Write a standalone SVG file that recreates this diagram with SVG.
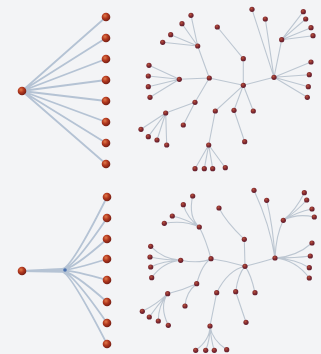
<svg xmlns="http://www.w3.org/2000/svg" width="321" height="354" viewBox="0 0 321 354">
<defs>
<radialGradient id="ball" cx="0.38" cy="0.35" r="0.7">
<stop offset="0" stop-color="#e07a4a"/>
<stop offset="0.45" stop-color="#b3391f"/>
<stop offset="1" stop-color="#6e1c14"/>
</radialGradient>
<radialGradient id="tball" cx="0.4" cy="0.35" r="0.7">
<stop offset="0" stop-color="#b8543c"/>
<stop offset="0.5" stop-color="#832a30"/>
<stop offset="1" stop-color="#5a1c2c"/>
</radialGradient>
<style>
.fe{stroke:#a9bace;stroke-width:1.8;fill:none;stroke-linecap:round;opacity:0.85}
.te{stroke:#bcc6d1;stroke-width:1.1;fill:none;stroke-linecap:round}
.fn{fill:url(#ball)}
.tn{fill:url(#tball)}
</style>
</defs>
<rect width="321" height="354" fill="#f3f4f6"/>
<g id="connectors">
<!-- top fan -->
<path class="fe" d="M22,91 L106,17 M22,91 L106,38 M22,91 L106,59 M22,91 L106,80 M22,91 L106,101 M22,91 L106,122 M22,91 L106,143 M22,91 L106,164"/>
<!-- bottom fan bundled -->
<path class="fe" d="M22,271 L62,269 Q71,269 107,197 M22,271 L62,269.4 Q72,270 107,218 M22,271 L62,269.8 Q72,270 107,239 M22,271 L62,270.2 Q72,270 107,259 M22,271 L62,270.6 Q72,270 107,280 M22,271 L62,271 Q72,271 107,302 M22,271 L62,271.4 Q71,271 107,323 M22,271 L62,271.8 Q70,272 107,344"/>
<!-- top tree -->
<path class="te" d="M209.3,78 L243.3,85.3 L274,77.3 M209.3,78 L179.3,79.3 M209.3,78 L197.7,46 M209.3,78 L195,102.3
M179.3,79.3 L149,65.3 M179.3,79.3 L148.3,76 M179.3,79.3 L148.3,86.7 M179.3,79.3 L150,97.3
M197.7,46 L191,15.3 M197.7,46 L182,23.7 M197.7,46 L170.7,34.7 M197.7,46 L162.7,42.3
M195,102.3 L165.7,113 M195,102.3 L183.3,125
M165.7,113 L141,129.3 M165.7,113 L148.3,136.7 M165.7,113 L157,140 M165.7,113 L166.7,145
M243.3,85.3 L243.3,58.7 L217.3,27
M243.3,85.3 L215.3,111 L208.7,145
M208.7,145 L195,168.7 M208.7,145 L204.3,168.7 M208.7,145 L212.7,168.7 M208.7,145 L225.3,167.7
M243.3,85.3 L234,110.3 L244.7,141.7 M243.3,85.3 L253.3,111
M274,77.3 L281.7,39.7 M281.7,39.7 L303.3,11.7 M281.7,39.7 L305.7,19 M281.7,39.7 L311,27.7 M281.7,39.7 L313,35.7
M274,77.3 L252,9.3 M274,77.3 L265.3,19
M274,77.3 L311,62 M274,77.3 L309.3,74.7 M274,77.3 L308.3,86.7 M274,77.3 L307.3,97.3"/>
<!-- bottom tree (bundled) -->
<path class="te" d="M211,258.7 Q228,261 245,266.3 Q262,262 275,258
M211,258.7 Q200,264 180.7,260.3 M211,258.7 Q202,264 196.7,283.7 M211,258.7 Q206,240 199.3,227
M150.7,246.3 Q163,259 180.7,260.3 M150,257 Q163,260 180.7,260.3 M150.7,267 Q163,261 180.7,260.3 M151.7,277.7 Q163,262 180.7,260.3
M192.7,196 Q188,217 199.3,227 M183.3,204.7 Q187,218 199.3,227 M172.3,216 Q186,219 199.3,227 M164.3,223.3 Q185,220 199.3,227
M196.7,283.7 Q183,290 167.7,293.7 M196.7,283.7 Q186,292 185,306
M142.3,311.3 Q156,305 167.7,293.7 M149.3,317 Q157,306 167.7,293.7 M158.3,321 Q158,306 167.7,293.7 M168.3,325.3 Q159,306 167.7,293.7
M245,266.3 L244.3,239.3 Q226,222 219,208
M245,266.3 Q228,270 216.7,292.7 M216.7,292.7 L210,326
M195.7,350.3 Q210,340 210,326 M205.7,350.3 Q210,340 210,326 M214.3,350.3 Q211,340 210,326 M226.7,349.7 Q212,340 210,326
M245,266.3 Q238,274 235.7,291.7 M235.7,291.7 L246,322.3 M245,266.3 Q251,274 255,292.7
M275,258 Q276,235 283.3,220.3
M304.3,192.7 Q296,210 283.3,220.3 M306.7,200 Q297,211 283.3,220.3 M312,209 Q297,212 283.3,220.3 M314.3,217 Q297,213 283.3,220.3
M254,190.3 Q270,225 275,258 M266.7,200.3 Q273,226 275,258
M312,243 Q296,257 275,258 M310.3,256 Q296,258 275,258 M309.3,267.7 Q296,259 275,258 M309.3,278 Q296,260 275,258"/>
</g>
<!-- top fan nodes -->
<g id="fan1-root"><circle class="fn" cx="22" cy="91" r="4.3"/></g>
<g id="fan1-l1"><circle class="fn" cx="106" cy="17" r="4.3"/></g>
<g id="fan1-l2"><circle class="fn" cx="106" cy="38" r="4.3"/></g>
<g id="fan1-l3"><circle class="fn" cx="106" cy="59" r="4.3"/></g>
<g id="fan1-l4"><circle class="fn" cx="106" cy="80" r="4.3"/></g>
<g id="fan1-l5"><circle class="fn" cx="106" cy="101" r="4.3"/></g>
<g id="fan1-l6"><circle class="fn" cx="106" cy="122" r="4.3"/></g>
<g id="fan1-l7"><circle class="fn" cx="106" cy="143" r="4.3"/></g>
<g id="fan1-l8"><circle class="fn" cx="106" cy="164" r="4.3"/></g>
<!-- bottom fan nodes -->
<g id="fan2-root"><circle class="fn" cx="22" cy="271" r="4.3"/></g>
<g id="fan2-junction"><circle cx="65" cy="270" r="1.8" fill="#4b72b0"/></g>
<g id="fan2-l1"><circle class="fn" cx="107" cy="197" r="4.3"/></g>
<g id="fan2-l2"><circle class="fn" cx="107" cy="218" r="4.3"/></g>
<g id="fan2-l3"><circle class="fn" cx="107" cy="239" r="4.3"/></g>
<g id="fan2-l4"><circle class="fn" cx="107" cy="259" r="4.3"/></g>
<g id="fan2-l5"><circle class="fn" cx="107" cy="280" r="4.3"/></g>
<g id="fan2-l6"><circle class="fn" cx="107" cy="302" r="4.3"/></g>
<g id="fan2-l7"><circle class="fn" cx="107" cy="323" r="4.3"/></g>
<g id="fan2-l8"><circle class="fn" cx="107" cy="344" r="4.3"/></g>
<!-- top tree nodes -->
<g id="t1-nodes">
<g id="t1-A"><circle class="tn" cx="209.3" cy="78" r="2.6"/></g>
<g id="t1-B"><circle class="tn" cx="243.3" cy="85.3" r="2.6"/></g>
<g id="t1-C"><circle class="tn" cx="274" cy="77.3" r="2.6"/></g>
<g id="t1-D"><circle class="tn" cx="179.3" cy="79.3" r="2.6"/></g>
<g id="t1-D1"><circle class="tn" cx="149" cy="65.3" r="2.6"/></g>
<g id="t1-D2"><circle class="tn" cx="148.3" cy="76" r="2.6"/></g>
<g id="t1-D3"><circle class="tn" cx="148.3" cy="86.7" r="2.6"/></g>
<g id="t1-D4"><circle class="tn" cx="150" cy="97.3" r="2.6"/></g>
<g id="t1-E"><circle class="tn" cx="197.7" cy="46" r="2.6"/></g>
<g id="t1-E1"><circle class="tn" cx="191" cy="15.3" r="2.6"/></g>
<g id="t1-E2"><circle class="tn" cx="182" cy="23.7" r="2.6"/></g>
<g id="t1-E3"><circle class="tn" cx="170.7" cy="34.7" r="2.6"/></g>
<g id="t1-E4"><circle class="tn" cx="162.7" cy="42.3" r="2.6"/></g>
<g id="t1-F"><circle class="tn" cx="195" cy="102.3" r="2.6"/></g>
<g id="t1-G"><circle class="tn" cx="165.7" cy="113" r="2.6"/></g>
<g id="t1-H"><circle class="tn" cx="183.3" cy="125" r="2.6"/></g>
<g id="t1-G1"><circle class="tn" cx="141" cy="129.3" r="2.6"/></g>
<g id="t1-G2"><circle class="tn" cx="148.3" cy="136.7" r="2.6"/></g>
<g id="t1-G3"><circle class="tn" cx="157" cy="140" r="2.6"/></g>
<g id="t1-G4"><circle class="tn" cx="166.7" cy="145" r="2.6"/></g>
<g id="t1-I"><circle class="tn" cx="243.3" cy="58.7" r="2.6"/></g>
<g id="t1-J"><circle class="tn" cx="217.3" cy="27" r="2.6"/></g>
<g id="t1-K"><circle class="tn" cx="215.3" cy="111" r="2.6"/></g>
<g id="t1-L"><circle class="tn" cx="208.7" cy="145" r="2.6"/></g>
<g id="t1-L1"><circle class="tn" cx="195" cy="168.7" r="2.6"/></g>
<g id="t1-L2"><circle class="tn" cx="204.3" cy="168.7" r="2.6"/></g>
<g id="t1-L3"><circle class="tn" cx="212.7" cy="168.7" r="2.6"/></g>
<g id="t1-L4"><circle class="tn" cx="225.3" cy="167.7" r="2.6"/></g>
<g id="t1-M"><circle class="tn" cx="234" cy="110.3" r="2.6"/></g>
<g id="t1-N"><circle class="tn" cx="244.7" cy="141.7" r="2.6"/></g>
<g id="t1-O"><circle class="tn" cx="253.3" cy="111" r="2.6"/></g>
<g id="t1-P"><circle class="tn" cx="281.7" cy="39.7" r="2.6"/></g>
<g id="t1-P1"><circle class="tn" cx="303.3" cy="11.7" r="2.6"/></g>
<g id="t1-P2"><circle class="tn" cx="305.7" cy="19" r="2.6"/></g>
<g id="t1-P3"><circle class="tn" cx="311" cy="27.7" r="2.6"/></g>
<g id="t1-P4"><circle class="tn" cx="313" cy="35.7" r="2.6"/></g>
<g id="t1-Q"><circle class="tn" cx="252" cy="9.3" r="2.6"/></g>
<g id="t1-R"><circle class="tn" cx="265.3" cy="19" r="2.6"/></g>
<g id="t1-C1"><circle class="tn" cx="311" cy="62" r="2.6"/></g>
<g id="t1-C2"><circle class="tn" cx="309.3" cy="74.7" r="2.6"/></g>
<g id="t1-C3"><circle class="tn" cx="308.3" cy="86.7" r="2.6"/></g>
<g id="t1-C4"><circle class="tn" cx="307.3" cy="97.3" r="2.6"/></g>
</g>
<!-- bottom tree nodes -->
<g id="t2-nodes">
<g id="t2-A"><circle class="tn" cx="211" cy="258.7" r="2.6"/></g>
<g id="t2-B"><circle class="tn" cx="245" cy="266.3" r="2.6"/></g>
<g id="t2-C"><circle class="tn" cx="275" cy="258" r="2.6"/></g>
<g id="t2-D"><circle class="tn" cx="180.7" cy="260.3" r="2.6"/></g>
<g id="t2-D1"><circle class="tn" cx="150.7" cy="246.3" r="2.6"/></g>
<g id="t2-D2"><circle class="tn" cx="150" cy="257" r="2.6"/></g>
<g id="t2-D3"><circle class="tn" cx="150.7" cy="267" r="2.6"/></g>
<g id="t2-D4"><circle class="tn" cx="151.7" cy="277.7" r="2.6"/></g>
<g id="t2-E"><circle class="tn" cx="199.3" cy="227" r="2.6"/></g>
<g id="t2-E1"><circle class="tn" cx="192.7" cy="196" r="2.6"/></g>
<g id="t2-E2"><circle class="tn" cx="183.3" cy="204.7" r="2.6"/></g>
<g id="t2-E3"><circle class="tn" cx="172.3" cy="216" r="2.6"/></g>
<g id="t2-E4"><circle class="tn" cx="164.3" cy="223.3" r="2.6"/></g>
<g id="t2-F"><circle class="tn" cx="196.7" cy="283.7" r="2.6"/></g>
<g id="t2-G"><circle class="tn" cx="167.7" cy="293.7" r="2.6"/></g>
<g id="t2-H"><circle class="tn" cx="185" cy="306" r="2.6"/></g>
<g id="t2-G1"><circle class="tn" cx="142.3" cy="311.3" r="2.6"/></g>
<g id="t2-G2"><circle class="tn" cx="149.3" cy="317" r="2.6"/></g>
<g id="t2-G3"><circle class="tn" cx="158.3" cy="321" r="2.6"/></g>
<g id="t2-G4"><circle class="tn" cx="168.3" cy="325.3" r="2.6"/></g>
<g id="t2-I"><circle class="tn" cx="244.3" cy="239.3" r="2.6"/></g>
<g id="t2-J"><circle class="tn" cx="219" cy="208" r="2.6"/></g>
<g id="t2-K"><circle class="tn" cx="216.7" cy="292.7" r="2.6"/></g>
<g id="t2-L"><circle class="tn" cx="210" cy="326" r="2.6"/></g>
<g id="t2-L1"><circle class="tn" cx="195.7" cy="350.3" r="2.6"/></g>
<g id="t2-L2"><circle class="tn" cx="205.7" cy="350.3" r="2.6"/></g>
<g id="t2-L3"><circle class="tn" cx="214.3" cy="350.3" r="2.6"/></g>
<g id="t2-L4"><circle class="tn" cx="226.7" cy="349.7" r="2.6"/></g>
<g id="t2-M"><circle class="tn" cx="235.7" cy="291.7" r="2.6"/></g>
<g id="t2-N"><circle class="tn" cx="246" cy="322.3" r="2.6"/></g>
<g id="t2-O"><circle class="tn" cx="255" cy="292.7" r="2.6"/></g>
<g id="t2-P"><circle class="tn" cx="283.3" cy="220.3" r="2.6"/></g>
<g id="t2-P1"><circle class="tn" cx="304.3" cy="192.7" r="2.6"/></g>
<g id="t2-P2"><circle class="tn" cx="306.7" cy="200" r="2.6"/></g>
<g id="t2-P3"><circle class="tn" cx="312" cy="209" r="2.6"/></g>
<g id="t2-P4"><circle class="tn" cx="314.3" cy="217" r="2.6"/></g>
<g id="t2-Q"><circle class="tn" cx="254" cy="190.3" r="2.6"/></g>
<g id="t2-R"><circle class="tn" cx="266.7" cy="200.3" r="2.6"/></g>
<g id="t2-C1"><circle class="tn" cx="312" cy="243" r="2.6"/></g>
<g id="t2-C2"><circle class="tn" cx="310.3" cy="256" r="2.6"/></g>
<g id="t2-C3"><circle class="tn" cx="309.3" cy="267.7" r="2.6"/></g>
<g id="t2-C4"><circle class="tn" cx="309.3" cy="278" r="2.6"/></g>
</g>
</svg>
